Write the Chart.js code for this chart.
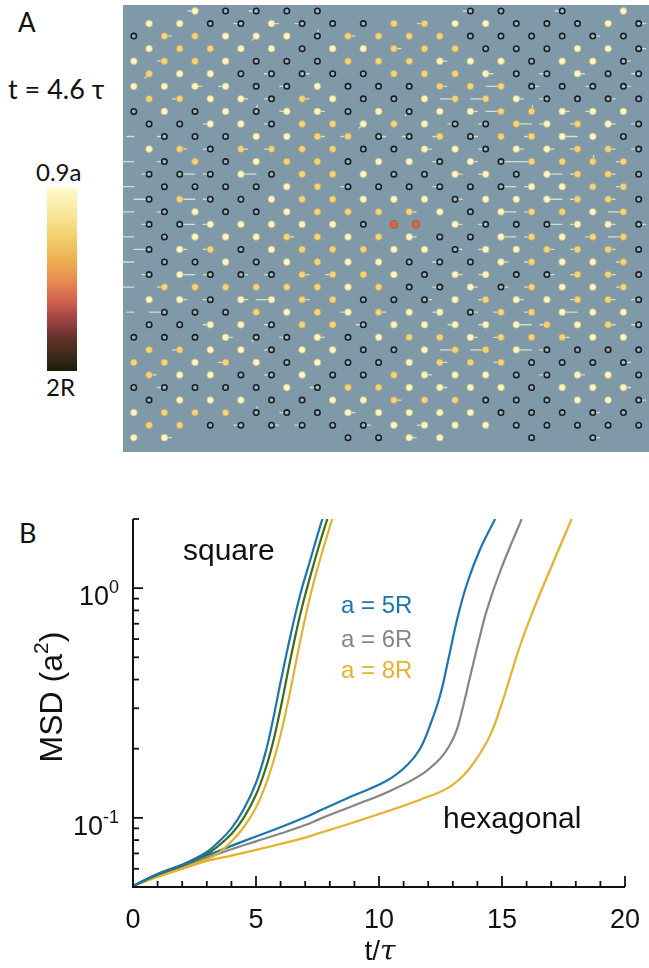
<!DOCTYPE html>
<html>
<head>
<meta charset="utf-8">
<script src="https://cdn.jsdelivr.net/npm/chart.js@4"></script>
<style>
  html, body { margin: 0; padding: 0; background: #fff; }
  body { position: relative; width: 649px; height: 968px; overflow: hidden; font-family: Lato, "Open Sans", sans-serif; color: #111; }
  .lbl { position: absolute; white-space: nowrap; line-height: 1; }
  #latticeBox { position: absolute; left: 123px; top: 5px; width: 526px; height: 447px; }
  #msdBox { position: absolute; left: 0; top: 480px; width: 649px; height: 488px; }
  #cbar {
    position: absolute; left: 47px; top: 188px; width: 30px; height: 183px;
    background: linear-gradient(to bottom, #fffbc8 0%, #f8e79c 14%, #f1cf6c 27%, #eeae50 40%, #e78a50 51%, #d2604f 62%, #9c4340 72%, #64322b 82%, #3a2a19 92%, #1d1b0c 100%);
  }
</style>
</head>
<body>
<div class="lbl" style="left:18px;top:9px;font-size:26px;">A</div>
<div class="lbl" style="left:8px;top:75px;font-size:27px;">t = 4.6 &tau;</div>
<div class="lbl" style="left:36px;top:160px;font-size:24px;">0.9a</div>
<div id="cbar"></div>
<div class="lbl" style="left:46px;top:375px;font-size:24px;">2R</div>
<div class="lbl" style="left:19px;top:519px;font-size:27px;">B</div>

<div id="latticeBox"><canvas id="lattice"></canvas></div>
<div id="msdBox"><canvas id="msd"></canvas></div>

<script>
/* ---------- panel A: particle snapshot ---------- */
// one string per lattice row: o = bright particle, y = golden particle, c = dark ring, . = empty
const siteRows = [
  "..occcc....cc.c.o",
  "ooccocccyyoocccoc",
  "cyyooocyyyycccccc",
  "oyyoocooyyycccooc",
  "oyyocccyyyooocooc",
  "yoocccccyyyoccocc",
  "ooooccocccyyycccc",
  "yyoocyoccoyyocccc",
  "cococoococooyyooo",
  "ccoocyyoyoccyoyoc",
  ".cccooyyccycyyooc",
  "oycyyyyccoocooyyc",
  ".cycoyycoococyyyy",
  "cccocyyoccoocoyyc",
  ".ccccoyccccccooyy",
  "cyccoyyooocoooyyc",
  ".coccoyyyyocoyyoy",
  "ccoooooc..occcooc",
  ".coooyyoyoccoyoyy",
  "coycoyyyoocooyyyc",
  ".ccocoyoocccoyooy",
  "cocccyyyocooccyyc",
  ".yyyyyyoyccocyooy",
  "oocooyycccoyooyyc",
  ".cccyoyoyoocyyooo",
  "ccoocyycoooooyoyc",
  "cccoccocoyyoyyyoo",
  "yyoocooccoyyocccc",
  "yyoyococcoyyycccc",
  "yooccoccyoooccooc",
  "cccccocyyoooocooo",
  "coooccooyyycccooc",
  "oyyycccoooooccccc",
  "yyccccccooooccccc",
  "oo.....ccoo..c.c."
];

// recent displacement per site: l/r short left/right, L/R long, u up, d down-left
const trailRows = [
  "..l.l......l..l..",
  "...lrl...l......r",
  ".r..d.ur.......r.",
  "........r.......r",
  ".l........r.....r",
  "d...lr.....r.lr.l",
  "..rl.l....r.Lr.lr",
  ".l.rlr....LLrl.r.",
  "....ulr..d.rLurl.",
  "..l.l..d..llRllrl",
  "ll....rlrllr.lR..",
  ".rlrl....r.lrrlrl",
  "Ll........lrRL.ul",
  "lRlR......rl.Rlr.",
  "L......l..l.Rl..l",
  "LRl.......r..Rlr.",
  "Ll.......r..Rl..L",
  "lRl.......rl.Rlrr",
  "L....r...r..Rl.lL",
  "Lrl.......rl.rlr.",
  "L.........l.rl..l",
  "lRlrlrl...rl.rlr.",
  "Ll........lrrl..l",
  ".rlrLr...r.lr.lrl",
  "lL.....lr.lrllR..",
  "..l.l..l..llRl.rl",
  "...rdlr....rl.r..",
  ".l..l.....LLRl...",
  "...l......r.l...r",
  "r...l....r...lr..",
  ".l....l...r.....r",
  "........r.......r",
  "....ul.r.......r.",
  "...lrl.r.l.......",
  ".r.......r.....r."
];

// the tagged pair in the middle of the frame: [row, column]
const taggedSites = [[17, 8], [17, 8.72]];

const TRAIL_DIR = { l: [-7, 0], r: [7, 0], L: [-15, 0], R: [15, 0], u: [1, -6], d: [-4, 4] };
const PANEL_BG = '#7f99a9';

function sitePoints(kind) {
  const pts = [];
  siteRows.forEach((row, r) => {
    for (let k = 0; k < row.length; k++) {
      if (row[k] === kind) pts.push({ x: k + (r % 2) * 0.5, y: r });
    }
  });
  return pts;
}

const panelBg = {
  id: 'panelBg',
  beforeDraw(chart) {
    const { ctx, chartArea: a } = chart;
    ctx.save();
    ctx.fillStyle = PANEL_BG;
    ctx.fillRect(a.left, a.top, a.right - a.left, a.bottom - a.top);
    ctx.restore();
  }
};

const trails = {
  id: 'trails',
  beforeDatasetsDraw(chart) {
    const { ctx, chartArea: a, scales: { x, y } } = chart;
    ctx.save();
    ctx.beginPath();
    ctx.rect(a.left, a.top, a.right - a.left, a.bottom - a.top);
    ctx.clip();
    ctx.strokeStyle = 'rgba(226,236,214,0.85)';
    ctx.lineWidth = 1.3;
    ctx.lineCap = 'round';
    trailRows.forEach((row, r) => {
      for (let k = 0; k < row.length; k++) {
        const d = TRAIL_DIR[row[k]];
        if (!d) continue;
        const px = x.getPixelForValue(k + (r % 2) * 0.5);
        const py = y.getPixelForValue(r);
        ctx.beginPath();
        ctx.moveTo(px, py);
        ctx.lineTo(px + d[0], py + d[1]);
        ctx.stroke();
      }
    });
    ctx.restore();
  }
};

new Chart(document.getElementById('lattice'), {
  type: 'scatter',
  data: {
    datasets: [
      {
        data: taggedSites.map(s => ({ x: s[1] + (s[0] % 2) * 0.5, y: s[0] })),
        pointRadius: 3.9, backgroundColor: '#d5683f', borderColor: '#b2502c', borderWidth: 0.8
      },
      {
        data: sitePoints('o'),
        pointRadius: 3.4, backgroundColor: '#fdf5c3', borderColor: '#cdbd80', borderWidth: 0.8
      },
      {
        data: sitePoints('y'),
        pointRadius: 3.4, backgroundColor: '#f3d47e', borderColor: '#c4a356', borderWidth: 0.8
      },
      {
        data: sitePoints('c'),
        pointRadius: 2.7, backgroundColor: 'rgba(170,188,198,0.7)', borderColor: '#1b1f22', borderWidth: 1.6
      }
    ]
  },
  options: {
    responsive: true,
    maintainAspectRatio: false,
    animation: false,
    events: [],
    layout: { padding: 0, autoPadding: false },
    plugins: { legend: { display: false }, tooltip: { enabled: false } },
    scales: {
      x: { type: 'linear', min: -0.353, max: 16.837, display: false },
      y: { type: 'linear', min: -0.478, max: 35.14, reverse: true, display: false }
    }
  },
  plugins: [panelBg, trails]
});

/* ---------- panel B: mean squared displacement ---------- */
const B_TOP = 480;

// square lattice
const sqT5 = [0, 1, 2, 3, 3.5, 4, 4.5, 5, 5.4, 5.7, 6.0, 6.4, 6.8, 7.2, 7.6, 7.7];
const sqMSD5 = [0.0505, 0.057, 0.0625, 0.071, 0.079, 0.090, 0.109, 0.142, 0.195, 0.27, 0.39, 0.62, 0.94, 1.32, 1.85, 2.0];
const sqT6 = [0, 1, 2, 3, 3.5, 4, 4.5, 5, 5.4, 5.7, 6.0, 6.4, 6.8, 7.2, 7.6, 7.9];
const sqMSD6 = [0.0505, 0.0565, 0.062, 0.0695, 0.076, 0.085, 0.100, 0.126, 0.165, 0.215, 0.30, 0.49, 0.77, 1.12, 1.58, 2.0];
const sqT8 = [0, 1, 2, 3, 3.5, 4, 4.5, 5, 5.4, 5.7, 6.0, 6.4, 6.8, 7.2, 7.6, 8.1];
const sqMSD8 = [0.0505, 0.0555, 0.060, 0.066, 0.0705, 0.079, 0.091, 0.111, 0.140, 0.175, 0.23, 0.36, 0.59, 0.92, 1.33, 2.0];

// hexagonal lattice
const hxT5 = [0, 1, 2, 3, 4, 5, 6, 7, 7.6, 8.96, 10.31, 11.13, 11.67, 12.07, 12.48, 12.82, 13.16, 13.57, 14.1, 14.72];
const hxMSD5 = [0.0505, 0.057, 0.0625, 0.0685, 0.0755, 0.083, 0.091, 0.1005, 0.1076, 0.125, 0.145, 0.169, 0.20, 0.252, 0.34, 0.49, 0.72, 1.04, 1.47, 2.0];
const hxT6 = [0, 1, 2, 3, 4, 5, 6, 7, 7.6, 8.96, 10.31, 11.67, 12.48, 12.85, 13.15, 13.4, 13.7, 14.04, 14.38, 14.92, 15.8];
const hxMSD6 = [0.0505, 0.0565, 0.0615, 0.067, 0.073, 0.079, 0.0855, 0.093, 0.099, 0.113, 0.129, 0.153, 0.181, 0.205, 0.24, 0.30, 0.41, 0.58, 0.80, 1.18, 2.0];
const hxT8 = [0, 1, 2, 3, 4, 5, 6, 7, 7.6, 8.96, 10.31, 11.67, 12.75, 13.43, 13.97, 14.51, 14.92, 15.33, 15.73, 16.27, 16.95, 17.83];
const hxMSD8 = [0.0505, 0.0555, 0.060, 0.065, 0.0685, 0.0725, 0.077, 0.082, 0.086, 0.0955, 0.1065, 0.120, 0.134, 0.153, 0.181, 0.228, 0.298, 0.41, 0.56, 0.80, 1.20, 2.0];

const xMajor = [0, 5, 10, 15, 20];
const yMajor = [0.1, 1];
const yMajorExp = ['-1', '0'];
const yMinor = [0.06, 0.07, 0.08, 0.09, 0.2, 0.3, 0.4, 0.5, 0.6, 0.7, 0.8, 0.9, 2];
const legendText = ['a = 5R', 'a = 6R', 'a = 8R'];

const BLUE = '#1b75b1';
const GRAY = '#858585';
const GOLD = '#e4b22c';
const GREEN = '#3e6d17';
const SANS = '"Liberation Sans", Arial, Helvetica, sans-serif';

function curve(ts, vals, color) {
  return {
    data: ts.map((t, i) => ({ x: t, y: vals[i] })),
    borderColor: color,
    borderWidth: 2.2,
    pointRadius: 0,
    fill: false,
    tension: 0.4
  };
}

const msdFrame = {
  id: 'msdFrame',
  afterDraw(chart) {
    const { ctx, chartArea: a, scales: { x, y } } = chart;
    ctx.save();
    ctx.strokeStyle = '#111';
    ctx.fillStyle = '#111';

    // axis lines
    ctx.lineWidth = 2;
    ctx.beginPath();
    ctx.moveTo(a.left, a.top);
    ctx.lineTo(a.left, a.bottom);
    ctx.lineTo(a.right, a.bottom);
    ctx.stroke();

    // inward ticks
    ctx.lineWidth = 1.8;
    for (let t = 0; t <= 20; t++) {
      const px = x.getPixelForValue(t);
      const len = xMajor.includes(t) ? 11 : 6;
      ctx.beginPath();
      ctx.moveTo(px, a.bottom);
      ctx.lineTo(px, a.bottom - len);
      ctx.stroke();
    }
    yMajor.concat(yMinor).forEach(v => {
      const py = y.getPixelForValue(v);
      const len = yMajor.includes(v) ? 10 : 6;
      ctx.beginPath();
      ctx.moveTo(a.left, py);
      ctx.lineTo(a.left + len, py);
      ctx.stroke();
    });

    // tick labels
    ctx.font = '27px ' + SANS;
    ctx.textAlign = 'center';
    ctx.textBaseline = 'alphabetic';
    xMajor.forEach(t => ctx.fillText(String(t), x.getPixelForValue(t), 928 - B_TOP));

    yMajor.forEach((v, i) => {
      const py = y.getPixelForValue(v);
      const right = a.left - 14;
      ctx.font = '18px ' + SANS;
      const sw = ctx.measureText(yMajorExp[i]).width;
      ctx.textAlign = 'left';
      ctx.fillText(yMajorExp[i], right - sw, py + 5);
      ctx.font = '27px ' + SANS;
      ctx.textAlign = 'right';
      ctx.fillText('10', right - sw, py + 17);
    });

    // x title: t/tau
    ctx.font = '28px ' + SANS;
    const w1 = ctx.measureText('t/').width;
    ctx.font = 'italic 28px "DejaVu Serif", "Liberation Serif", serif';
    const w2 = ctx.measureText('\u03c4').width;
    const x0 = 380 - (w1 + w2) / 2;
    ctx.textAlign = 'left';
    ctx.font = '28px ' + SANS;
    ctx.fillText('t/', x0, 960 - B_TOP);
    ctx.font = 'italic 28px "DejaVu Serif", "Liberation Serif", serif';
    ctx.fillText('\u03c4', x0 + w1, 960 - B_TOP);

    // y title: MSD (a^2)
    ctx.save();
    ctx.translate(62, 697 - B_TOP);
    ctx.rotate(-Math.PI / 2);
    ctx.font = '32px ' + SANS;
    const m1 = ctx.measureText('MSD (a').width;
    const m3 = ctx.measureText(')').width;
    ctx.font = '21px ' + SANS;
    const m2 = ctx.measureText('2').width;
    let cx = -(m1 + m2 + m3) / 2;
    ctx.textAlign = 'left';
    ctx.font = '32px ' + SANS;
    ctx.fillText('MSD (a', cx, 0);
    ctx.font = '21px ' + SANS;
    ctx.fillText('2', cx + m1, -14);
    ctx.font = '32px ' + SANS;
    ctx.fillText(')', cx + m1 + m2, 0);
    ctx.restore();

    // annotations
    ctx.textAlign = 'left';
    ctx.font = '30px ' + SANS;
    ctx.fillText('square', 183, 560 - B_TOP);
    ctx.fillText('hexagonal', 443, 828 - B_TOP);
    ctx.font = '24px ' + SANS;
    [BLUE, GRAY, GOLD].forEach((c, i) => {
      ctx.fillStyle = c;
      ctx.fillText(legendText[i], 341, [613, 647, 678][i] - B_TOP);
    });
    ctx.restore();
  }
};

new Chart(document.getElementById('msd'), {
  type: 'line',
  data: {
    datasets: [
      curve(sqT5, sqMSD5, BLUE),
      curve(sqT6, sqMSD6, GREEN),
      curve(sqT8, sqMSD8, GOLD),
      curve(hxT5, hxMSD5, BLUE),
      curve(hxT6, hxMSD6, GRAY),
      curve(hxT8, hxMSD8, GOLD)
    ]
  },
  options: {
    responsive: true,
    maintainAspectRatio: false,
    animation: false,
    events: [],
    layout: { padding: { left: 133, top: 39, right: 24, bottom: 81 }, autoPadding: false },
    plugins: { legend: { display: false }, tooltip: { enabled: false } },
    scales: {
      x: { type: 'linear', min: 0, max: 20, display: false },
      y: { type: 'logarithmic', min: 0.05, max: 2, display: false }
    }
  },
  plugins: [msdFrame]
});
</script>
</body>
</html>
